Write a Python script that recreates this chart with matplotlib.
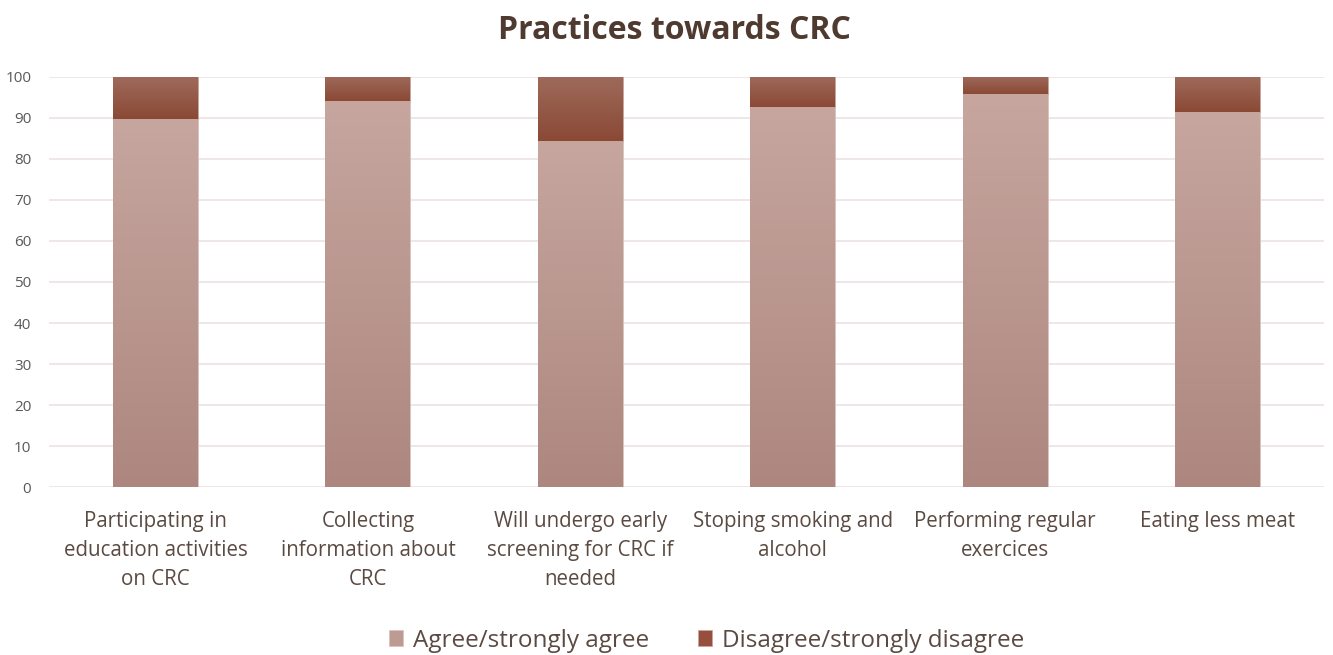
import matplotlib
matplotlib.use("Agg")
import matplotlib.pyplot as plt
import numpy as np
from matplotlib.colors import LinearSegmentedColormap

categories = ["Participating in\neducation activities\non CRC",
              "Collecting\ninformation about\nCRC",
              "Will undergo early\nscreening for CRC if\nneeded",
              "Stoping smoking and\nalcohol",
              "Performing regular\nexercices",
              "Eating less meat"]
agree = [89.8, 94.1, 84.3, 92.5, 95.7, 91.5]
disagree = [100 - a for a in agree]
series_names = ["Agree/strongly agree", "Disagree/strongly disagree"]
yticks = list(range(0, 101, 10))

plt.rcParams['font.family'] = ['Open Sans', 'DejaVu Sans']

fig = plt.figure(figsize=(13.33, 6.55), dpi=100)
ax = fig.add_axes([0.037, 0.256, 0.956, 0.627])

x = np.arange(len(categories))
w = 0.4
agree_cmap = LinearSegmentedColormap.from_list("ag", ["#ad877f", "#c6a69f"])
dis_cmap = LinearSegmentedColormap.from_list("dg", ["#8a4935", "#9f6a5b"])

b1 = ax.bar(x, agree, w, color="#bd9a92", edgecolor="#d8c4bf", linewidth=0.6,
            label=series_names[0], zorder=2)
b2 = ax.bar(x, disagree, w, bottom=agree, color="#954f3c", edgecolor="#c9a79d",
            linewidth=0.6, label=series_names[1], zorder=2)

grad = np.linspace(0, 1, 256).reshape(-1, 1)
for bars, cmap in ((b1, agree_cmap), (b2, dis_cmap)):
    for r in bars:
        x0, y0 = r.get_x(), r.get_y()
        im = ax.imshow(grad, cmap=cmap, origin="lower", aspect="auto",
                       extent=[x0, x0 + r.get_width(), y0, y0 + r.get_height()],
                       zorder=2.5, interpolation="bicubic")
        im.set_clip_path(r)

ax.set_xlim(-0.5, len(categories) - 0.5)
ax.set_ylim(0, 100)
ax.set_yticks(yticks)
ax.yaxis.grid(True, color="#ebe3e0", linewidth=1.2, zorder=0)
ax.set_axisbelow(True)
for s in ax.spines.values():
    s.set_visible(False)
ax.tick_params(axis="both", length=0)
ax.tick_params(axis="y", labelsize=11, labelcolor="#595959", pad=13)
ax.set_xticks(x)
ax.set_xticklabels(categories, fontsize=14.8, color="#5b4a42", linespacing=1.5)
ax.tick_params(axis="x", pad=17)

fig.text(0.506, 0.953, "Practices towards CRC", ha="center", va="center",
         fontsize=23, fontweight="bold", color="#4f3a30")

leg = fig.legend(handles=[b1, b2], labels=series_names, loc="center",
                 bbox_to_anchor=(0.53, 0.022), ncol=2, frameon=False,
                 fontsize=17.5, handlelength=0.6, handleheight=0.6,
                 handletextpad=0.4, columnspacing=2.0)
for t in leg.get_texts():
    t.set_color("#5b4a42")

fig.savefig("out.png", dpi=100)
